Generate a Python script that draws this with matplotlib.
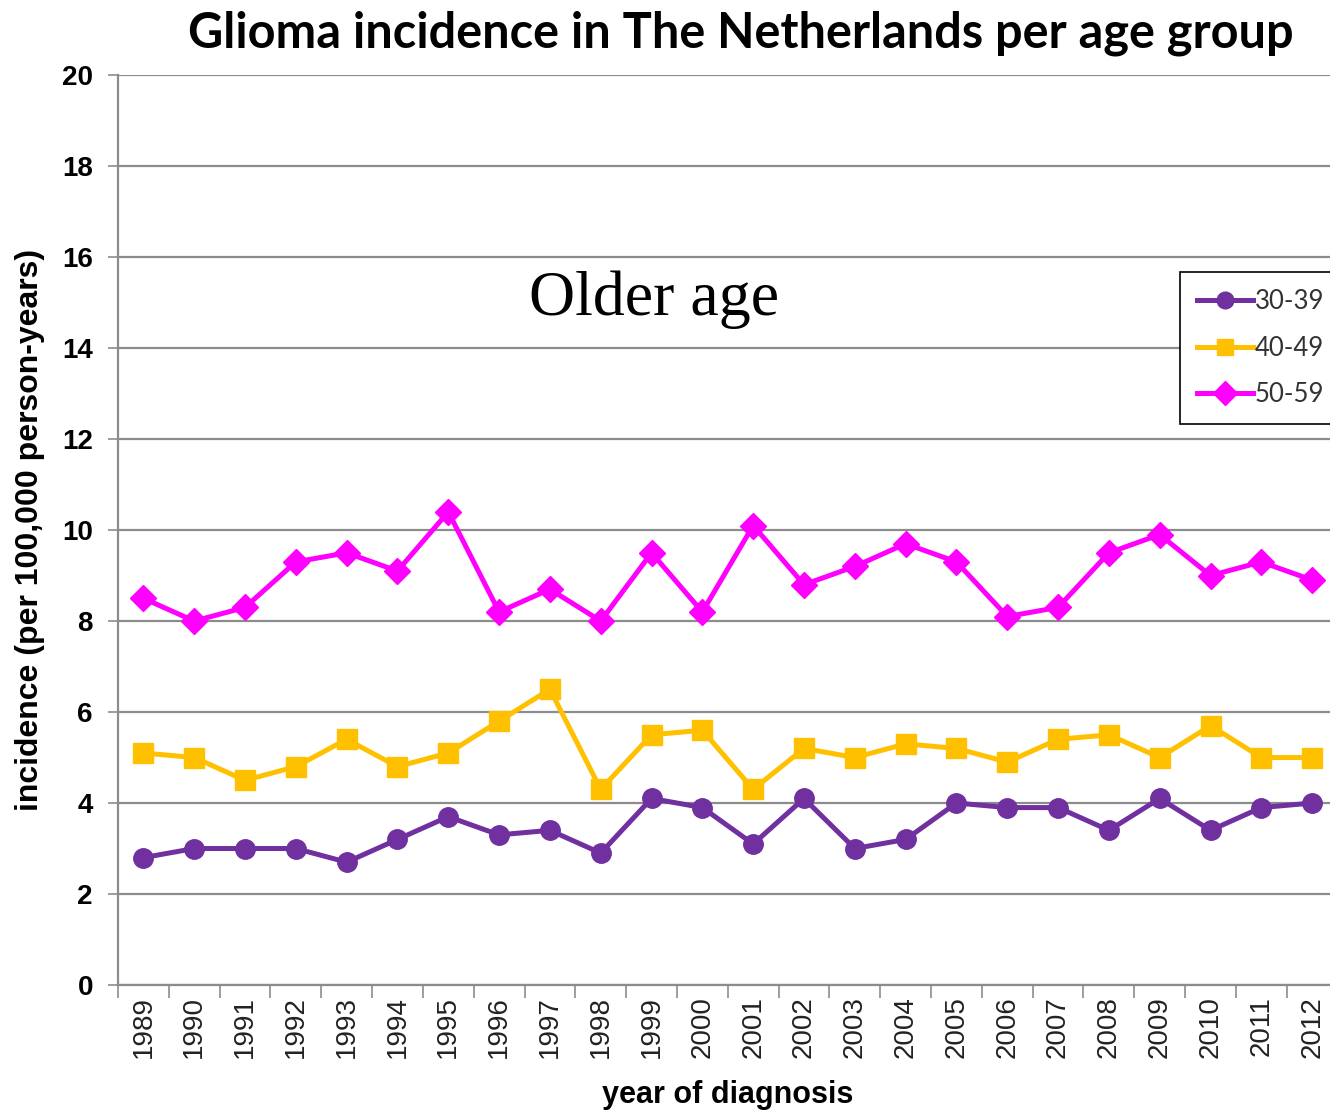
import matplotlib
matplotlib.use("Agg")
import matplotlib.pyplot as plt
import numpy as np

years = [str(y) for y in range(1989, 2013)]
age_30_39 = [2.8, 3.0, 3.0, 3.0, 2.7, 3.2, 3.7, 3.3, 3.4, 2.9, 4.1, 3.9,
             3.1, 4.1, 3.0, 3.2, 4.0, 3.9, 3.9, 3.4, 4.1, 3.4, 3.9, 4.0]
age_40_49 = [5.1, 5.0, 4.5, 4.8, 5.4, 4.8, 5.1, 5.8, 6.5, 4.3, 5.5, 5.6,
             4.3, 5.2, 5.0, 5.3, 5.2, 4.9, 5.4, 5.5, 5.0, 5.7, 5.0, 5.0]
age_50_59 = [8.5, 8.0, 8.3, 9.3, 9.5, 9.1, 10.4, 8.2, 8.7, 8.0, 9.5, 8.2,
             10.1, 8.8, 9.2, 9.7, 9.3, 8.1, 8.3, 9.5, 9.9, 9.0, 9.3, 8.9]
y_ticks = [0, 2, 4, 6, 8, 10, 12, 14, 16, 18, 20]

fig = plt.figure(figsize=(13.3, 11.13), dpi=100)
ax = fig.add_axes([0.0887, 0.115, 0.917, 0.8175])

x = np.arange(len(years))
ax.plot(x, age_30_39, color="#7030A0", lw=3.6, marker="o", ms=14,
        label="30-39", zorder=3)
ax.plot(x, age_40_49, color="#FFC000", lw=3.6, marker="s", ms=15,
        label="40-49", zorder=3)
ax.plot(x, age_50_59, color="#FF00FF", lw=3.6, marker="D", ms=13,
        label="50-59", zorder=3)

ax.set_xlim(-0.5, len(years) - 0.5)
ax.set_ylim(0, 20)
ax.set_yticks(y_ticks)
ax.set_yticklabels([str(v) for v in y_ticks], fontsize=20, fontweight="bold",
                   family="Liberation Sans")
ax.yaxis.grid(True, color="#8c8c8c", lw=1.6)
ax.set_axisbelow(True)

# year labels sit in the middle of each category, ticks on the boundaries
ax.set_xticks(x)
ax.set_xticklabels(years, rotation=90, fontsize=20, family="Liberation Sans",
                   color="#222222")
ax.tick_params(axis="x", length=0, pad=8)
ax.set_xticks(np.arange(len(years) + 1) - 0.5, minor=True)
ax.tick_params(axis="x", which="minor", length=9, width=1.2, color="#8c8c8c")
ax.tick_params(axis="y", length=7, width=1.2, color="#8c8c8c", pad=11)

for side in ["top", "right"]:
    ax.spines[side].set_visible(False)
for side in ["left", "bottom"]:
    ax.spines[side].set_color("#8c8c8c")
    ax.spines[side].set_linewidth(1.6)

ax.set_ylabel("incidence (per 100,000 person-years)", fontsize=23,
              fontweight="bold", family="Liberation Sans", labelpad=12)
ax.set_xlabel("year of diagnosis", fontsize=22, fontweight="bold",
              family="Liberation Sans", labelpad=16)

fig.text(0.557, 0.970, "Glioma incidence in The Netherlands per age group",
         ha="center", va="center", fontsize=35, fontweight="bold",
         family="Lato")
ax.text(0.492, 0.731, "Older age", transform=fig.transFigure, ha="center",
        va="center", fontsize=46, family="Liberation Serif")

leg = ax.legend(loc="upper left", bbox_to_anchor=(1180 / 1330, 1 - 272 / 1113),
                bbox_transform=fig.transFigure, frameon=True, fancybox=False,
                handlelength=2.2, handletextpad=0.05,
                labelspacing=0.85, borderpad=0.65, borderaxespad=0,
                prop={"family": "Lato", "size": 18.5})
leg.get_frame().set_edgecolor("black")
leg.get_frame().set_linewidth(1.2)
leg.get_frame().set_alpha(1)
for t in leg.get_texts():
    t.set_color("#333333")
for h in leg.legend_handles:
    h.set_markersize(12)

fig.savefig("out.png", dpi=100, facecolor="white")
